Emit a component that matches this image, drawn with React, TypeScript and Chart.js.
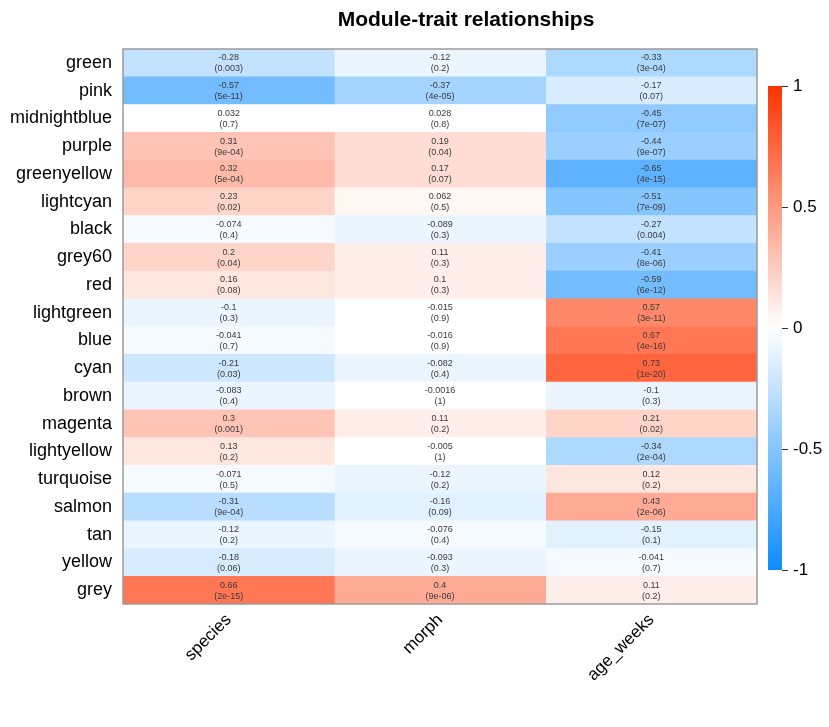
import React, { useEffect, useRef } from "react";
import { Chart, registerables } from "chart.js";
Chart.register(...registerables);

const modules = ["green", "pink", "midnightblue", "purple", "greenyellow", "lightcyan", "black", "grey60", "red", "lightgreen", "blue", "cyan", "brown", "magenta", "lightyellow", "turquoise", "salmon", "tan", "yellow", "grey"];
const traits = ["species", "morph", "age_weeks"];
const corSpecies = [-0.28, -0.57, 0.032, 0.31, 0.32, 0.23, -0.074, 0.2, 0.16, -0.1, -0.041, -0.21, -0.083, 0.3, 0.13, -0.071, -0.31, -0.12, -0.18, 0.66];
const pSpecies = ["0.003", "5e-11", "0.7", "9e-04", "5e-04", "0.02", "0.4", "0.04", "0.08", "0.3", "0.7", "0.03", "0.4", "0.001", "0.2", "0.5", "9e-04", "0.2", "0.06", "2e-15"];
const corMorph = [-0.12, -0.37, 0.028, 0.19, 0.17, 0.062, -0.089, 0.11, 0.1, -0.015, -0.016, -0.082, -0.0016, 0.11, -0.005, -0.12, -0.16, -0.076, -0.093, 0.4];
const pMorph = ["0.2", "4e-05", "0.8", "0.04", "0.07", "0.5", "0.3", "0.3", "0.3", "0.9", "0.9", "0.4", "1", "0.2", "1", "0.2", "0.09", "0.4", "0.3", "9e-06"];
const corAge = [-0.33, -0.17, -0.45, -0.44, -0.65, -0.51, -0.27, -0.41, -0.59, 0.57, 0.67, 0.73, -0.1, 0.21, -0.34, 0.12, 0.43, -0.15, -0.041, 0.11];
const pAge = ["3e-04", "0.07", "7e-07", "9e-07", "4e-15", "7e-09", "0.004", "8e-06", "6e-12", "3e-11", "4e-16", "1e-20", "0.3", "0.02", "2e-04", "0.2", "2e-06", "0.1", "0.7", "0.2"];
const colorbarTicks = [1, 0.5, 0, -0.5, -1];
const title = "Module-trait relationships";

const corByTrait = [corSpecies, corMorph, corAge];
const pByTrait = [pSpecies, pMorph, pAge];

const FONT = "'Liberation Sans', Arial, sans-serif";
const BLUE_END = [13, 140, 255];
const RED_END = [255, 51, 0];
const N_COLORS = 50;

function mix(end: number[], t: number): string {
  const c = end.map((e) => Math.round(255 + (e - 255) * t));
  return `rgb(${c[0]},${c[1]},${c[2]})`;
}

// binned palette like WGCNA blueWhiteRed(50) with zlim c(-1, 1)
function colorFor(v: number): string {
  let idx = Math.floor(((v + 1) / 2) * N_COLORS);
  idx = Math.max(0, Math.min(N_COLORS - 1, idx));
  const half = N_COLORS / 2;
  if (idx < half) return mix(BLUE_END, 1 - idx / (half - 1));
  return mix(RED_END, (idx - half) / (half - 1));
}

function smoothColor(v: number): string {
  return v < 0 ? mix(BLUE_END, -v) : mix(RED_END, v);
}

const cellTextPlugin = {
  id: "cellText",
  afterDatasetsDraw(chart: any) {
    const ctx = chart.ctx;
    ctx.save();
    ctx.fillStyle = "#3a3a3a";
    ctx.font = `9px ${FONT}`;
    ctx.textAlign = "center";
    ctx.textBaseline = "middle";
    chart.data.datasets.forEach((ds: any, di: number) => {
      const meta = chart.getDatasetMeta(di);
      meta.data.forEach((el: any, i: number) => {
        const cx = (el.x + el.base) / 2;
        const cy = el.y;
        ctx.fillText(String(corByTrait[di][i]), cx, cy - 5);
        ctx.fillText(`(${pByTrait[di][i]})`, cx, cy + 6);
      });
    });
    const ca = chart.chartArea;
    ctx.strokeStyle = "#9a9a9a";
    ctx.lineWidth = 1.5;
    ctx.strokeRect(ca.left, ca.top, ca.right - ca.left, ca.bottom - ca.top);
    ctx.fillStyle = "#000";
    ctx.font = `bold 21px ${FONT}`;
    ctx.fillText(title, 466, 20);
    ctx.restore();
  },
};

export default function App() {
  const mainRef = useRef<HTMLCanvasElement>(null);
  const cbRef = useRef<HTMLCanvasElement>(null);

  useEffect(() => {
    const datasets = traits.map((t, j) => ({
      label: t,
      data: modules.map(() => [j, j + 1]),
      backgroundColor: corByTrait[j].map(colorFor),
      borderWidth: 0,
      barPercentage: 1,
      categoryPercentage: 1,
      grouped: false,
    }));
    const main = new Chart(mainRef.current as HTMLCanvasElement, {
      type: "bar",
      data: { labels: modules, datasets: datasets as any },
      options: {
        animation: false,
        responsive: false,
        indexAxis: "y",
        layout: { padding: { top: 49, right: 72, left: 0, bottom: 0 } },
        plugins: { legend: { display: false }, title: { display: false }, tooltip: { enabled: false } },
        scales: {
          x: {
            type: "linear",
            min: 0,
            max: 3,
            grid: { display: false, drawTicks: false },
            border: { display: false },
            afterBuildTicks: (scale: any) => {
              scale.ticks = traits.map((_, i) => ({ value: i + 0.5 }));
            },
            afterFit: (scale: any) => {
              scale.height = 123;
            },
            ticks: {
              autoSkip: false,
              minRotation: 45,
              maxRotation: 45,
              padding: 6,
              color: "#000",
              font: { family: FONT, size: 17 },
              callback: (_v: any, i: number) => traits[i],
            },
          },
          y: {
            type: "category",
            grid: { display: false, drawTicks: false },
            border: { display: false },
            afterFit: (scale: any) => {
              scale.width = 123;
            },
            ticks: {
              autoSkip: false,
              padding: 11,
              color: "#000",
              font: { family: FONT, size: 18 },
            },
          },
        },
      },
      plugins: [cellTextPlugin],
    });

    const cb = new Chart(cbRef.current as HTMLCanvasElement, {
      type: "bar",
      data: {
        labels: [""],
        datasets: [
          {
            data: [[-1, 1]] as any,
            borderWidth: 0,
            barPercentage: 1,
            categoryPercentage: 1,
            backgroundColor: (c: any) => {
              const ca = c.chart.chartArea;
              if (!ca) return "#fff";
              const g = c.chart.ctx.createLinearGradient(0, ca.bottom, 0, ca.top);
              for (let k = 0; k <= 40; k++) {
                const v = -1 + k * 0.05;
                g.addColorStop(k / 40, smoothColor(v));
              }
              return g;
            },
          },
        ],
      },
      options: {
        animation: false,
        responsive: false,
        layout: { padding: { left: 28, top: 26, bottom: 30, right: 0 } },
        plugins: { legend: { display: false }, title: { display: false }, tooltip: { enabled: false } },
        scales: {
          x: { display: false },
          y: {
            type: "linear",
            position: "right",
            min: -1,
            max: 1,
            grid: { drawOnChartArea: false, drawTicks: true, tickLength: 6, color: "#333" },
            border: { display: false },
            afterBuildTicks: (scale: any) => {
              scale.ticks = colorbarTicks.map((v) => ({ value: v }));
            },
            afterFit: (scale: any) => {
              scale.width = 47;
            },
            ticks: {
              padding: 5,
              color: "#000",
              font: { family: FONT, size: 17 },
              callback: (v: any) => String(v),
            },
          },
        },
      },
    });

    return () => {
      main.destroy();
      cb.destroy();
    };
  }, []);

  return (
    <div style={{ position: "fixed", left: 0, top: 0, width: 829, height: 727, background: "#fff" }}>
      <canvas ref={mainRef} width={829} height={727} style={{ position: "absolute", left: 0, top: 0, display: "block" }} />
      <canvas ref={cbRef} width={89} height={540} style={{ position: "absolute", left: 740, top: 60, display: "block" }} />
    </div>
  );
}
